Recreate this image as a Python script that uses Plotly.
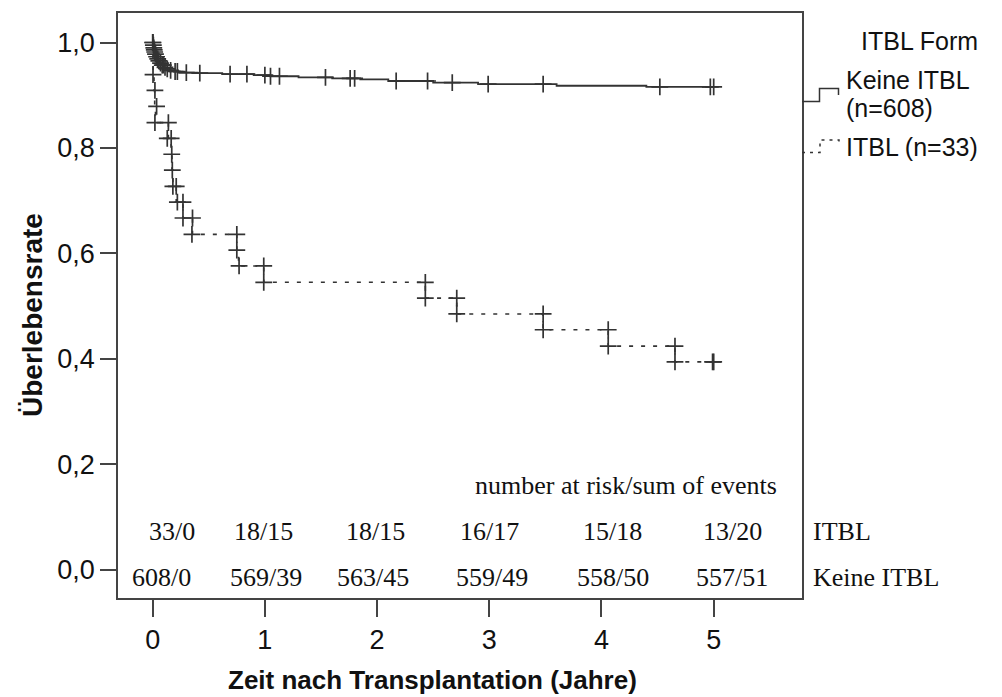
import numpy as np
import plotly.graph_objects as go

# Kaplan-Meier step data, time in years
keine_t = [0.0, 0.004, 0.008, 0.012, 0.016, 0.02, 0.03, 0.04, 0.05, 0.065, 0.08, 0.10,
           0.12, 0.15, 0.19, 0.24, 0.40, 0.62, 0.90, 1.05, 1.30, 1.60, 1.85, 2.10, 2.50,
           2.90, 3.60, 4.40]
keine_s = [1.0, 0.995, 0.990, 0.986, 0.982, 0.978, 0.973, 0.969, 0.965, 0.961, 0.957, 0.953,
           0.950, 0.947, 0.945, 0.943, 0.942, 0.940, 0.938, 0.936, 0.934, 0.932, 0.930, 0.927,
           0.924, 0.921, 0.918, 0.916]
keine_mark_t = [0.0, 0.003, 0.006, 0.01, 0.014, 0.018, 0.025, 0.035, 0.045, 0.055, 0.07,
                0.085, 0.095, 0.11, 0.13, 0.16, 0.20, 0.22, 0.30, 0.42, 0.69, 0.84, 1.0,
                1.05, 1.13, 1.54, 1.76, 1.80, 2.17, 2.45, 2.67, 2.99, 3.48, 4.52, 4.97, 5.0]

itbl_t = [0.0, 0.002, 0.004, 0.012, 0.018, 0.025, 0.14, 0.165, 0.172, 0.18, 0.21, 0.27,
          0.355, 0.75, 0.765, 0.99, 2.43, 2.71, 3.48, 4.06, 4.655]
itbl_s = [1.0, 0.970, 0.939, 0.909, 0.879, 0.848, 0.818, 0.788, 0.758, 0.727, 0.697, 0.667,
          0.636, 0.606, 0.576, 0.545, 0.515, 0.485, 0.455, 0.424, 0.394]
itbl_mark_t = [0.003, 0.02, 0.035, 0.02, 0.14, 0.13, 0.165, 0.17, 0.175, 0.18, 0.21, 0.22,
               0.27, 0.27, 0.355, 0.35, 0.75, 0.75, 0.77, 0.99, 0.99, 2.43, 2.43, 2.71,
               2.71, 3.48, 3.48, 4.06, 4.06, 4.655, 4.655, 4.99, 5.0]
itbl_mark_s = [0.939, 0.909, 0.879, 0.848, 0.848, 0.818, 0.818, 0.788, 0.758, 0.727, 0.727,
               0.697, 0.697, 0.667, 0.667, 0.636, 0.636, 0.606, 0.576, 0.576, 0.545, 0.545,
               0.515, 0.515, 0.485, 0.485, 0.455, 0.455, 0.424, 0.424, 0.394, 0.394, 0.394]

t_end = 5.0

y_ticks = [0.0, 0.2, 0.4, 0.6, 0.8, 1.0]
y_tick_text = ["0,0", "0,2", "0,4", "0,6", "0,8", "1,0"]
x_ticks = [0, 1, 2, 3, 4, 5]

# number at risk / sum of events
risk_itbl = ["33/0", "18/15", "18/15", "16/17", "15/18", "13/20"]
risk_keine = ["608/0", "569/39", "563/45", "559/49", "558/50", "557/51"]

INK = "#333333"
SANS = "Liberation Sans, Arial, sans-serif"
SERIF = "Liberation Serif, Times New Roman, serif"

W, H = 1002, 697
L, R, T, B = 118, 802, 13, 598


def px_x(px):
    return (px - L) / (R - L)


def px_y(py):
    return (B - py) / (B - T)


def step_at(ts, ss, t):
    idx = np.searchsorted(np.asarray(ts), t, side="right") - 1
    return float(ss[max(idx, 0)])


fig = go.Figure()

# survival curves
fig.add_trace(go.Scatter(
    x=list(keine_t) + [t_end], y=list(keine_s) + [keine_s[-1]],
    mode="lines", line=dict(color=INK, width=1.8, shape="hv"),
    showlegend=False, hoverinfo="skip"))
fig.add_trace(go.Scatter(
    x=list(itbl_t) + [t_end], y=list(itbl_s) + [itbl_s[-1]],
    mode="lines", line=dict(color=INK, width=1.6, shape="hv", dash="4px,8px"),
    showlegend=False, hoverinfo="skip"))

# "+" marks
keine_mark_s = [step_at(keine_t, keine_s, t) for t in keine_mark_t]
mark_style = dict(symbol="cross-thin", size=12, color=INK, line=dict(color=INK, width=1.7))
fig.add_trace(go.Scatter(x=keine_mark_t, y=keine_mark_s, mode="markers",
                         marker=mark_style, showlegend=False, hoverinfo="skip"))
fig.add_trace(go.Scatter(x=itbl_mark_t, y=itbl_mark_s, mode="markers",
                         marker=mark_style, showlegend=False, hoverinfo="skip"))

x_range = [-0.309, 5.787]
y_range = [-0.054, 1.056]

annotations = []


def note(text, x, y, font, xref="paper", xanchor="center", angle=0):
    annotations.append(dict(text=text, xref=xref, yref="paper", x=x, y=y,
                            xanchor=xanchor, yanchor="middle", showarrow=False,
                            textangle=angle, font=font, borderpad=0))


# axis titles
note("<b>Zeit nach Transplantation (Jahre)</b>", px_x(432), px_y(680),
     dict(family=SANS, size=26, color="#111"))
note("<b>Überlebensrate</b>", px_x(33), px_y(315),
     dict(family=SANS, size=28, color="#111"), angle=-90)

# legend text
leg_font = dict(family=SANS, size=25, color="#111")
note("ITBL Form", px_x(860), px_y(41), leg_font, xanchor="left")
note("Keine ITBL", px_x(845), px_y(80), leg_font, xanchor="left")
note("(n=608)", px_x(845), px_y(108), leg_font, xanchor="left")
note("ITBL (n=33)", px_x(845), px_y(147), leg_font, xanchor="left")

# number-at-risk table
tab_font = dict(family=SERIF, size=26, color="#111")
note("number at risk/sum of events", px_x(778), px_y(485), tab_font, xanchor="right")
itbl_cols = [0.17, 0.99, 1.99, 3.0, 4.1, 5.17]
keine_cols = [0.083, 1.01, 1.96, 3.02, 4.1, 5.16]
for xc, txt in zip(itbl_cols, risk_itbl):
    note(txt, xc, px_y(531), tab_font, xref="x")
for xc, txt in zip(keine_cols, risk_keine):
    note(txt, xc, px_y(577), tab_font, xref="x")
note("ITBL", px_x(812), px_y(531), tab_font, xanchor="left")
note("Keine ITBL", px_x(812), px_y(577), tab_font, xanchor="left")


def path(points):
    return "M " + " L ".join(f"{px_x(a):.5f},{px_y(b):.5f}" for a, b in points)


shapes = [
    dict(type="path", xref="paper", yref="paper",
         path=path([(802, 101.5), (819.5, 101.5), (819.5, 88.5), (838.5, 88.5), (838.5, 95)]),
         line=dict(color=INK, width=1.5)),
    dict(type="path", xref="paper", yref="paper",
         path=path([(802, 152.5), (820, 152.5), (820, 140), (839, 140), (839, 146)]),
         line=dict(color=INK, width=1.5, dash="3px,5px")),
]

fig.update_layout(
    width=W, height=H,
    margin=dict(l=L, r=W - R, t=T, b=H - B, pad=0),
    paper_bgcolor="white", plot_bgcolor="white",
    annotations=annotations, shapes=shapes,
    showlegend=False,
    xaxis=dict(range=x_range, tickvals=x_ticks, ticktext=[str(v) for v in x_ticks],
               showgrid=False, zeroline=False, showline=True, mirror=True,
               linecolor="#444", linewidth=1.8, ticks="outside", ticklen=17,
               tickwidth=1.8, tickcolor="#444",
               tickfont=dict(family=SANS, size=27, color="#111")),
    yaxis=dict(range=y_range, tickvals=y_ticks, ticktext=y_tick_text,
               showgrid=False, zeroline=False, showline=True, mirror=True,
               linecolor="#444", linewidth=1.8, ticks="outside", ticklen=16,
               tickwidth=1.8, tickcolor="#444",
               tickfont=dict(family=SANS, size=27, color="#111")),
)

fig.write_html("out.html")
